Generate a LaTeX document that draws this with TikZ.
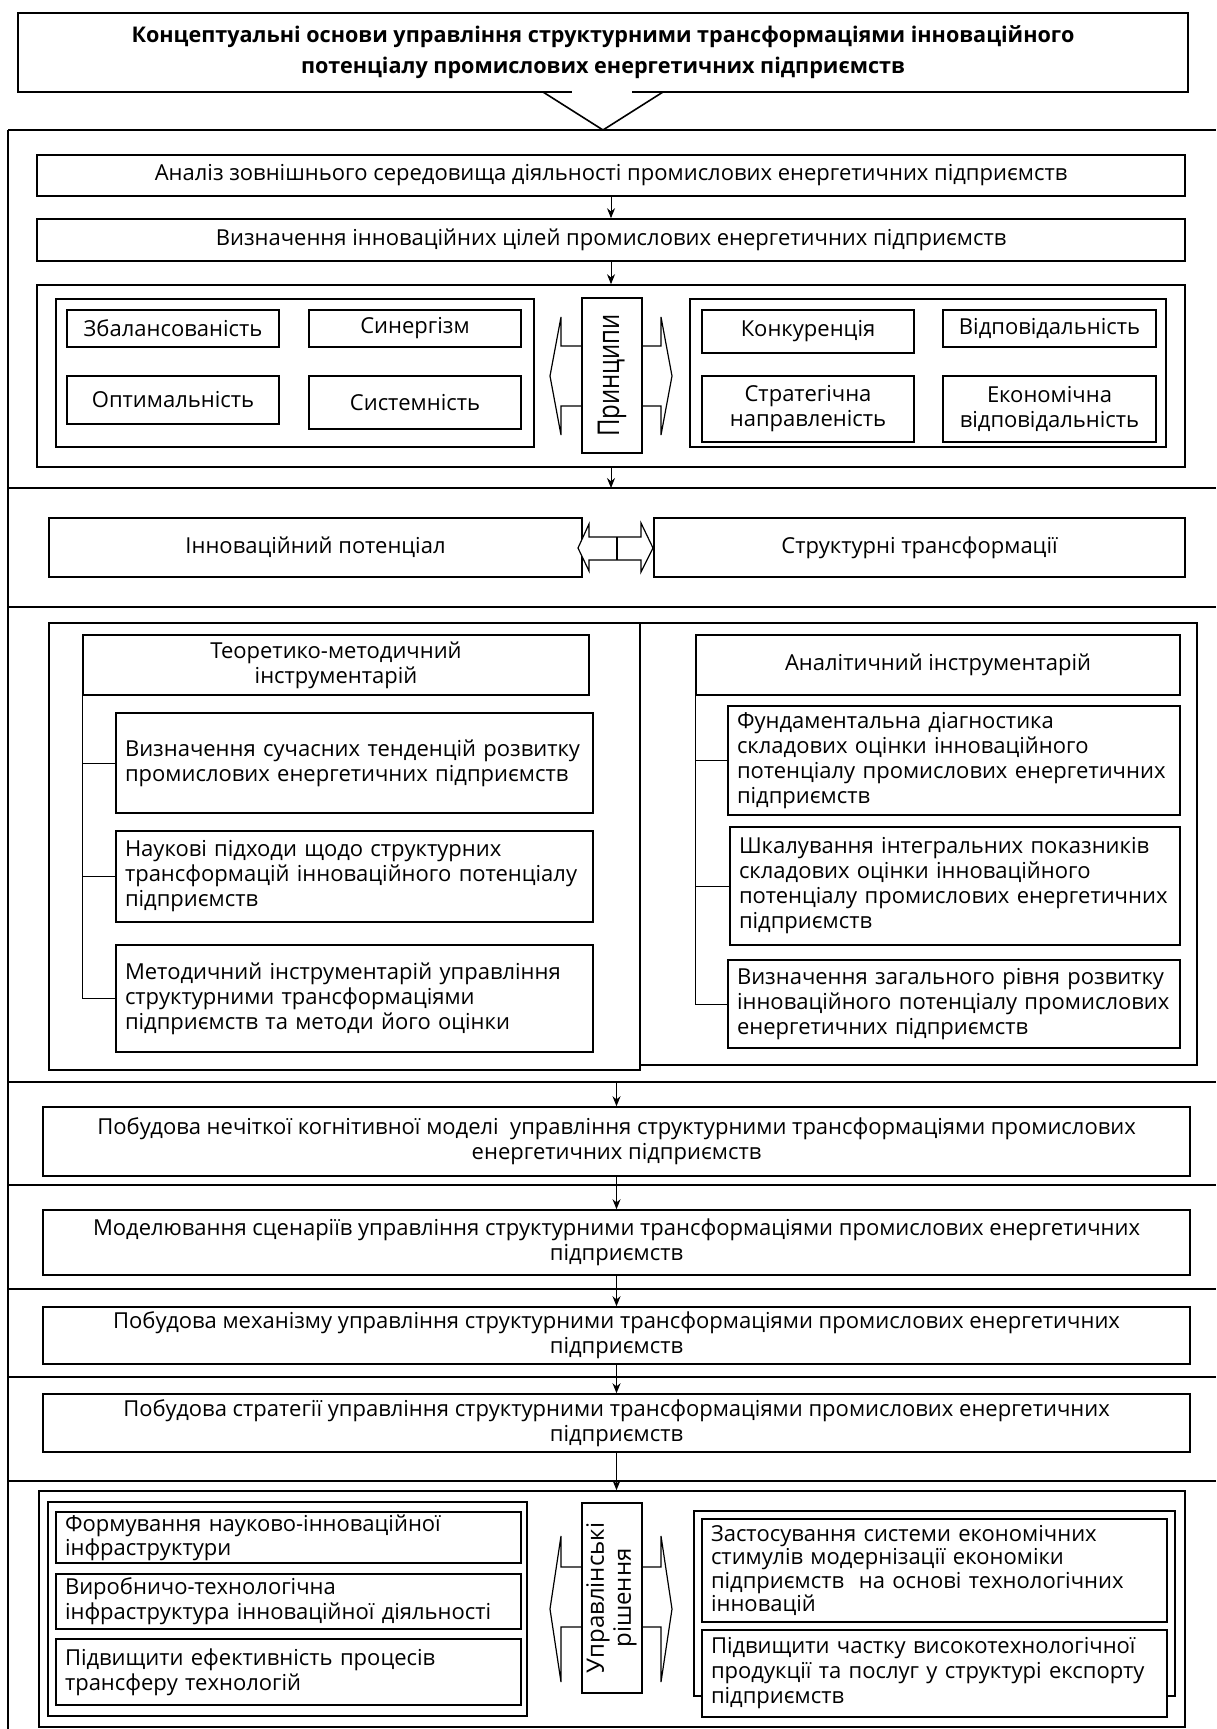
\documentclass[tikz,border=0pt]{standalone}
\usepackage{fontspec}
\setmainfont{Open Sans}
\usepackage{graphicx}
\usetikzlibrary{arrows.meta,shadows}

\tikzset{
  box/.style={draw, line width=0.8pt, fill=white, align=center, inner sep=0pt,
    font=\fontsize{11}{12.5}\selectfont,
    drop shadow={shadow xshift=0.7pt, shadow yshift=-0.7pt, opacity=1, fill=black}},
  lbox/.style={box, align=left, inner xsep=4.5pt},
  frameline/.style={line width=0.9pt},
  arr/.style={-{Stealth[length=5pt,width=4pt]}, line width=0.5pt},
  tree/.style={line width=0.5pt},
  blockarrow/.style={line width=0.6pt, fill=white},
}

\begin{document}
\begin{tikzpicture}[x=0.5pt,y=-0.5pt]
\useasboundingbox (0,0) rectangle (1216,1729);

%Straight Lines: frame
\draw[frameline] (8,130) -- (1216,130);
\draw[frameline] (8,130) -- (8,1729);
\draw[frameline] (8,488) -- (1216,488);
\draw[frameline] (8,607) -- (1216,607);
\draw[frameline] (8,1082) -- (1216,1082);
\draw[frameline] (8,1185) -- (1216,1185);
\draw[frameline] (8,1289) -- (1216,1289);
\draw[frameline] (8,1377) -- (1216,1377);
\draw[frameline] (8,1481) -- (1216,1481);

% Text Node: title
\node[box, font=\bfseries\fontsize{10.8}{15.5}\selectfont, minimum width=585pt, minimum height=39.5pt] (title) at (603,52.5)
  {Концептуальні основи управління структурними трансформаціями інноваційного\\потенціалу промислових енергетичних підприємств};
%Shape: chevron
\coordinate (chL) at (543,92);
\coordinate (chT) at (603,130);
\coordinate (chR) at (663,92);
\fill[white] (572,88) rectangle (632,97);
\draw[line width=0.8pt] (chL) -- (chT) -- (chR);

% Text Node
\node[box, minimum width=574pt, minimum height=20.5pt] (analiz) at (611,175.5)
  {Аналіз зовнішнього середовища діяльності промислових енергетичних підприємств};
% Text Node
\node[box, minimum width=574pt, minimum height=21pt] (vyzn) at (611,240)
  {Визначення інноваційних цілей промислових енергетичних підприємств};

%Shape: principles
\node[box, minimum width=574pt, minimum height=91pt] (princ) at (611,376) {};
\node[box, minimum width=239pt, minimum height=74pt] (leftpr) at (295,373) {};
\node[box, minimum width=238pt, minimum height=74pt] (rightpr) at (928,373) {};
\node[box, minimum width=106pt, minimum height=18.5pt] (zbal) at (173,328.5) {Збалансованість};
\node[box, minimum width=106pt, minimum height=18.5pt] (syn) at (415,328.5) {Синергізм};
\node[box, minimum width=106pt, minimum height=24pt] (opt) at (173,400) {Оптимальність};
\node[box, minimum width=106pt, minimum height=26.5pt] (sys) at (415,402.5) {Системність};
\node[box, minimum width=106pt, minimum height=21.5pt] (konk) at (808,331.5) {Конкуренція};
\node[box, minimum width=106.5pt, minimum height=18.5pt] (vidp) at (1049.5,328.5) {Відповідальність};
\node[box, minimum width=106pt, minimum height=33pt] (strat) at (808,409) {Стратегічна\\направленість};
\node[box, minimum width=106.5pt, minimum height=33pt] (econ) at (1049.5,409) {Економічна\\відповідальність};
\draw[blockarrow] (550,376) -- (561,317) -- (561,346) -- (661,346) -- (661,317) -- (672,376)
  -- (661,435) -- (661,406) -- (561,406) -- (561,435) -- cycle;
\node[box, minimum width=30pt, minimum height=77.5pt] (pr) at (612,375.5)
  {\rotatebox{90}{\scalebox{0.8}[1]{\fontsize{15}{18}\selectfont Принципи}}};

% Text Node: potential and transformations
\node[box, minimum width=266.5pt, minimum height=29.5pt] (innov) at (315.5,547.5) {Інноваційний потенціал};
\node[box, minimum width=265.5pt, minimum height=29.5pt] (struct) at (919.5,547.5) {Структурні трансформації};
\draw[blockarrow] (578,548) -- (589,524) -- (589,537) -- (641,537) -- (641,523) -- (653,548)
  -- (641,572) -- (641,560) -- (589,560) -- (589,571) -- cycle;
\draw[line width=0.6pt] (617,537) -- (617,560);

%Shape: toolkits
\node[box, minimum width=295.5pt, minimum height=223.5pt] (teor) at (344.5,846.5) {};
\node[box, minimum width=278.5pt, minimum height=221pt] (anal) at (918.5,844) {};
\node[box, minimum width=253pt, minimum height=30pt] (ttl) at (336,665) {Теоретико-методичний\\інструментарій};
\node[lbox, text width=229.5pt, minimum height=50pt] (t1) at (354.5,763)
  {Визначення сучасних тенденцій розвитку\\промислових енергетичних підприємств};
\node[lbox, text width=229.5pt, minimum height=45.5pt] (t2) at (354.5,876.5)
  {Наукові підходи щодо структурних\\трансформацій інноваційного потенціалу\\підприємств};
\node[lbox, text width=229.5pt, minimum height=53.5pt] (t3) at (354.5,998.5)
  {Методичний інструментарій управління\\структурними трансформаціями\\підприємств та методи його оцінки};
\node[box, minimum width=242pt, minimum height=30pt] (atl) at (938,665) {Аналітичний інструментарій};
\node[lbox, text width=217pt, minimum height=54.5pt] (a1) at (954,760.5)
  {Фундаментальна діагностика\\складових оцінки інноваційного\\потенціалу промислових енергетичних\\підприємств};
\node[lbox, text width=216pt, minimum height=59pt] (a2) at (955,886)
  {Шкалування інтегральних показників\\складових оцінки інноваційного\\потенціалу промислових енергетичних\\підприємств};
\node[lbox, text width=217pt, minimum height=44pt] (a3) at (954,1004)
  {Визначення загального рівня розвитку\\інноваційного потенціалу промислових\\енергетичних підприємств};
%Straight Lines: trees
\draw[tree] (ttl.south west) |- (t1.west);
\draw[tree] (ttl.south west) |- (t2.west);
\draw[tree] (ttl.south west) |- (t3.west);
\draw[tree] (atl.south west) |- (a1.west);
\draw[tree] (atl.south west) |- (a2.west);
\draw[tree] (atl.south west) |- (a3.west);

% Text Node: stages
\node[box, minimum width=573.5pt, minimum height=34.5pt] (m1) at (616.5,1141.5)
  {Побудова нечіткої когнітивної моделі\ \ управління структурними трансформаціями промислових\\енергетичних підприємств};
\node[box, minimum width=573.5pt, minimum height=32.5pt] (m2) at (616.5,1242.5)
  {Моделювання сценаріїв управління структурними трансформаціями промислових енергетичних\\підприємств};
\node[box, minimum width=573.5pt, minimum height=28.5pt] (m3) at (616.5,1335.5)
  {Побудова механізму управління структурними трансформаціями промислових енергетичних\\підприємств};
\node[box, minimum width=573.5pt, minimum height=29pt] (m4) at (616.5,1423)
  {Побудова стратегії управління структурними трансформаціями промислових енергетичних\\підприємств};

%Shape: decisions
\node[box, minimum width=573pt, minimum height=118pt] (cont) at (612,1609) {};
\node[box, minimum width=239.5pt, minimum height=107pt] (leftdec) at (287.5,1609) {};
\node[box, minimum width=240.5pt, minimum height=92.5pt] (rightdec) at (934.5,1603.5) {};
\node[lbox, text width=223.5pt, minimum height=25.5pt, font=\fontsize{11}{10}\selectfont] (b1) at (288.5,1537.5)
  {Формування науково-інноваційної\\інфраструктури};
\node[lbox, text width=223.5pt, minimum height=27.5pt] (b2) at (288.5,1601.5)
  {Виробничо-технологічна\\інфраструктура інноваційної діяльності};
\node[lbox, text width=223.5pt, minimum height=33pt] (b3) at (288.5,1672)
  {Підвищити ефективність процесів\\трансферу технологій};
\node[lbox, text width=223.5pt, minimum height=51.5pt, font=\fontsize{11}{11.8}\selectfont] (d1) at (934.5,1570.5)
  {Застосування системи економічних\\стимулів модернізації економіки\\підприємств\ \ на основі технологічних\\інновацій};
\node[lbox, text width=223.5pt, minimum height=43.5pt] (d2) at (934.5,1673.5)
  {Підвищити частку високотехнологічної\\продукції та послуг у структурі експорту\\підприємств};
\draw[blockarrow] (550,1609) -- (561,1536) -- (561,1567) -- (661,1567) -- (661,1536) -- (672,1609)
  -- (661,1682) -- (661,1627) -- (561,1627) -- (561,1682) -- cycle;
\node[box, minimum width=30pt, minimum height=95pt] (upr) at (612,1598)
  {\rotatebox{90}{\fontsize{12}{13.5}\selectfont\begin{tabular}{@{}c@{}}Управлінські\\рішення\end{tabular}}};

%Straight Lines: arrows
\coordinate (sep1) at (611,488);
\coordinate (sep4) at (616.5,1082);
\draw[arr] (analiz) -- (vyzn);
\draw[arr] (vyzn) -- (princ);
\draw[arr] (princ) -- (sep1);
\draw[arr] (sep4) -- (m1);
\draw[arr] (m1) -- (m2);
\draw[arr] (m2) -- (m3);
\draw[arr] (m3) -- (m4);
\draw[arr] (m4.south) -- (m4.south |- cont.north);

\end{tikzpicture}
\end{document}
